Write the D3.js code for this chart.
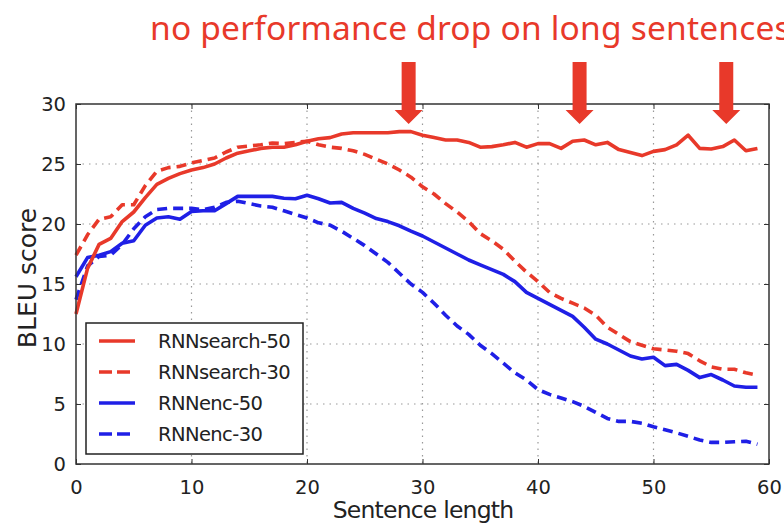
<!DOCTYPE html>
<html>
<head>
<meta charset="utf-8">
<script src="https://cdn.jsdelivr.net/npm/d3@7"></script>
<style>
  body { margin: 0; background: #fff; }
  svg { display: block; }
</style>
</head>
<body>
<svg id="chart" width="784" height="524"></svg>
<script>
// sentence length on x, BLEU on y
const lengths = [0,1,2,3,4,5,6,7,8,9,10,11,12,13,14,15,16,17,18,19,20,21,22,23,24,25,26,27,28,29,
  30,31,32,33,34,35,36,37,38,39,40,41,42,43,44,45,46,47,48,49,50,51,52,53,54,55,56,57,58,59];

const search50 = [12.5,16.3,18.3,18.8,20.2,21.0,22.2,23.3,23.8,24.2,24.5,24.7,25.0,25.5,25.9,26.1,26.3,26.4,26.4,26.6,
  26.9,27.1,27.2,27.5,27.6,27.6,27.6,27.6,27.7,27.7,27.4,27.2,27.0,27.0,26.8,26.4,26.45,26.6,26.8,26.4,
  26.7,26.7,26.3,26.9,27.0,26.6,26.8,26.2,25.95,25.7,26.05,26.2,26.6,27.4,26.3,26.25,26.45,27.0,26.1,26.3];
const search30 = [17.4,19.1,20.4,20.6,21.6,21.6,23.2,24.4,24.7,24.8,25.1,25.3,25.5,26.0,26.4,26.5,26.6,26.75,26.7,26.8,
  26.9,26.6,26.4,26.3,26.1,25.8,25.4,25.0,24.5,23.9,23.1,22.5,21.7,21.0,20.2,19.2,18.6,17.9,16.9,16.0,
  15.2,14.3,13.8,13.4,13.0,12.4,11.4,10.8,10.2,9.9,9.6,9.5,9.4,9.2,8.6,8.1,7.9,7.9,7.6,7.4];
const enc50 = [15.6,17.2,17.4,17.7,18.4,18.6,19.9,20.5,20.6,20.4,21.05,21.1,21.1,21.7,22.3,22.3,22.3,22.3,22.15,22.1,
  22.4,22.1,21.75,21.8,21.3,20.9,20.45,20.2,19.85,19.4,19.0,18.5,18.0,17.5,17.0,16.6,16.2,15.8,15.2,14.3,
  13.8,13.3,12.8,12.3,11.4,10.4,10.0,9.5,9.0,8.75,8.9,8.2,8.3,7.8,7.2,7.45,7.0,6.5,6.4,6.4];
const enc30 = [13.7,16.5,17.3,17.4,18.3,19.6,20.6,21.2,21.3,21.3,21.3,21.2,21.4,21.8,21.9,21.7,21.5,21.4,21.1,20.8,
  20.5,20.1,19.9,19.4,18.8,18.2,17.5,16.8,15.9,15.0,14.3,13.4,12.4,11.5,10.8,9.9,9.2,8.4,7.6,7.0,
  6.2,5.8,5.5,5.2,4.8,4.3,3.8,3.55,3.55,3.4,3.1,2.85,2.6,2.3,2.0,1.8,1.8,1.85,1.9,1.65];

const seriesNames = ["RNNsearch-50", "RNNsearch-30", "RNNenc-50", "RNNenc-30"];
const xTicks = [0, 10, 20, 30, 40, 50, 60];
const yTicks = [0, 5, 10, 15, 20, 25, 30];
const arrowAt = [28.8, 43.6, 56.3]; // sentence lengths the arrows point at
const note = "no performance drop on long sentences";

const RED = "#e8392a", BLUE = "#1f1fe6";
const series = [
  {name: seriesNames[0], values: search50, color: RED, dash: null},
  {name: seriesNames[1], values: search30, color: RED, dash: "10,6"},
  {name: seriesNames[2], values: enc50, color: BLUE, dash: null},
  {name: seriesNames[3], values: enc30, color: BLUE, dash: "10,6"}
];

const svg = d3.select("#chart");
const pl = 76, pr = 769, pt = 104, pb = 464;

const x = d3.scaleLinear().domain([0, 60]).range([pl, pr]);
const y = d3.scaleLinear().domain([0, 30]).range([pb, pt]);

// grid
const grid = svg.append("g")
    .attr("stroke", "#999")
    .attr("stroke-width", 1.2)
    .attr("stroke-dasharray", "1.5,5");
grid.selectAll("line.gx").data(xTicks.slice(1, -1)).join("line")
    .attr("class", "gx")
    .attr("x1", d => x(d)).attr("x2", d => x(d))
    .attr("y1", pt).attr("y2", pb);
grid.selectAll("line.gy").data(yTicks.slice(1, -1)).join("line")
    .attr("class", "gy")
    .attr("x1", pl).attr("x2", pr)
    .attr("y1", d => y(d)).attr("y2", d => y(d));

// axes with inward ticks (matplotlib classic)
const font = "'DejaVu Sans', sans-serif";
const xAxis = svg.append("g")
    .attr("transform", `translate(0,${pb})`)
    .call(d3.axisBottom(x).tickValues(xTicks).tickSize(-5).tickPadding(12).tickFormat(d3.format("d")));
const yAxis = svg.append("g")
    .attr("transform", `translate(${pl},0)`)
    .call(d3.axisLeft(y).tickValues(yTicks).tickSize(-5).tickPadding(10).tickFormat(d3.format("d")));
svg.append("g").attr("transform", `translate(0,${pt})`)
    .call(d3.axisTop(x).tickValues(xTicks).tickSize(-5).tickFormat(""));
svg.append("g").attr("transform", `translate(${pr},0)`)
    .call(d3.axisRight(y).tickValues(yTicks).tickSize(-5).tickFormat(""));
svg.selectAll(".domain").remove();
svg.selectAll(".tick line").attr("stroke", "#333");
[xAxis, yAxis].forEach(a => a.selectAll("text")
    .attr("font-family", font).attr("font-size", 19.5).attr("fill", "#222"));
xAxis.selectAll("text").attr("dy", "0.9em");

// lines
const line = d3.line().x((d, i) => x(lengths[i])).y(d => y(d));
svg.append("g")
    .attr("fill", "none")
    .attr("stroke-width", 3.6)
    .attr("stroke-linejoin", "round")
  .selectAll("path")
  .data(series.slice().reverse())
  .join("path")
    .attr("stroke", d => d.color)
    .attr("stroke-dasharray", d => d.dash)
    .attr("d", d => line(d.values));

// frame
svg.append("rect")
    .attr("x", pl).attr("y", pt)
    .attr("width", pr - pl).attr("height", pb - pt)
    .attr("fill", "none").attr("stroke", "#333").attr("stroke-width", 1.5);

// axis titles
svg.append("text")
    .attr("x", 423).attr("y", 518)
    .attr("text-anchor", "middle")
    .attr("font-family", font).attr("font-size", 23.5).attr("letter-spacing", -0.8)
    .attr("fill", "#222")
    .text("Sentence length");
svg.append("text")
    .attr("transform", `translate(36,278) rotate(-90)`)
    .attr("text-anchor", "middle")
    .attr("font-family", font).attr("font-size", 25)
    .attr("fill", "#222")
    .text("BLEU score");

// legend
const lg = svg.append("g").attr("transform", "translate(86,323)");
lg.append("rect")
    .attr("width", 217).attr("height", 131)
    .attr("fill", "#fff").attr("stroke", "#222").attr("stroke-width", 1.5);
const rows = lg.selectAll("g.row").data(series).join("g")
    .attr("class", "row")
    .attr("transform", (d, i) => `translate(0,${18 + i * 31})`);
rows.append("line")
    .attr("x1", 13).attr("x2", 49)
    .attr("stroke", d => d.color).attr("stroke-width", 3.6)
    .attr("stroke-dasharray", d => d.dash ? "13,5" : null);
rows.append("text")
    .attr("x", 72).attr("dy", "0.35em")
    .attr("font-family", font).attr("font-size", 19.5).attr("letter-spacing", -0.6)
    .attr("fill", "#222")
    .text(d => d.name);

// annotation
svg.append("text")
    .attr("x", 150).attr("y", 40)
    .attr("font-family", "'Noto Sans', sans-serif").attr("font-size", 33.5)
    .attr("letter-spacing", 0.2)
    .attr("fill", RED)
    .text(note);
const arrow = svg.append("g").attr("fill", RED);
arrow.selectAll("path").data(arrowAt).join("path")
    .attr("d", d => {
      const cx = x(d);
      return `M${cx - 7},62 L${cx + 7},62 L${cx + 7},110 L${cx + 14},110 L${cx},124 L${cx - 14},110 L${cx - 7},110 Z`;
    });
</script>
</body>
</html>
